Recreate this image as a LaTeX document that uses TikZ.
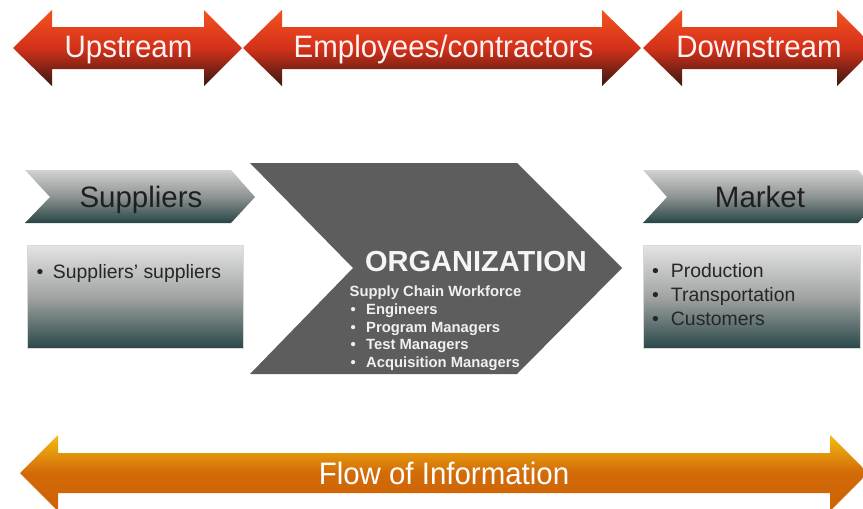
\documentclass[tikz,border=0pt]{standalone}
\usepackage{fontspec}
\setmainfont{Liberation Sans}
\newfontfamily\narrowsans[FakeStretch=0.95]{Liberation Sans}
\definecolor{redtop}{HTML}{F4521F}
\definecolor{redmid}{HTML}{D3311A}
\definecolor{redbot}{HTML}{3A1712}
\definecolor{orgtop}{HTML}{F3BC10}
\definecolor{orgmid}{HTML}{D36A08}
\definecolor{orgbot}{HTML}{CC6204}
\definecolor{chevtop}{HTML}{D2D2D2}
\definecolor{chevmid}{HTML}{8E9393}
\definecolor{chevbot}{HTML}{264545}
\definecolor{boxtop}{HTML}{E4E4E4}
\definecolor{boxmid}{HTML}{A2A4A4}
\definecolor{boxbot}{HTML}{2A4848}
\definecolor{orgfill}{HTML}{5D5D5D}
\begin{document}
\begin{tikzpicture}[x=1pt,y=-1pt,
  redarrow/.style={top color=redtop, bottom color=redbot, middle color=redmid, draw=none},
  flowarrow/.style={top color=orgtop, bottom color=orgbot, middle color=orgmid, draw=none},
  chevron/.style={top color=chevtop, bottom color=chevbot, middle color=chevmid, draw=none},
  graybox/.style={top color=boxtop, bottom color=boxbot, middle color=boxmid, draw=black!15, line width=0.6pt},
  whitetext/.style={font=\narrowsans\fontsize{31}{34}\selectfont, inner sep=0pt, anchor=base, text=white!95!red},
  darktext/.style={font=\fontsize{29.5}{32}\selectfont, inner sep=0pt, anchor=base, text=black!88},
  listtext/.style={font=\fontsize{19.4}{22}\selectfont, inner sep=0pt, anchor=base west, text=black!85},
  orgsub/.style={font=\bfseries\fontsize{14.8}{17}\selectfont, inner sep=0pt, anchor=base west, text=white!94!black}]
\useasboundingbox (0,0) rectangle (863,509);
\clip (0,0) rectangle (863,509);
\fill[white] (0,0) rectangle (863,509);

% top red arrows
\path[redarrow] (13,48) -- (52,10) -- (52,27) -- (204,27) -- (204,10) -- (242,48)
  -- (204,86) -- (204,69) -- (52,69) -- (52,86) -- cycle;
\path[redarrow] (243,48) -- (282,10) -- (282,27) -- (602,27) -- (602,10) -- (641,48)
  -- (602,86) -- (602,69) -- (282,69) -- (282,86) -- cycle;
\path[redarrow] (643,48) -- (682,10) -- (682,27) -- (837,27) -- (837,10) -- (875,48)
  -- (837,86) -- (837,69) -- (682,69) -- (682,86) -- cycle;
\node[whitetext] (up) at (128.5,57) {Upstream};
\node[whitetext] (emp) at (443.5,57) {Employees/contractors};
\node[whitetext] (down) at (759,57) {Downstream};

% suppliers chevron and box
\path[chevron] (25,170) -- (231,170) -- (255,197) -- (231,223) -- (25,223) -- (50,197) -- cycle;
\node[darktext] (sup) at (141,207) {Suppliers};
\path[graybox] (27,245) rectangle (243,348);
\node[listtext] (supsup) at (36.5,278) {•\hspace{9.5pt}Suppliers’ suppliers};

% organization chevron
\path[fill=orgfill] (250,163) -- (517,163) -- (622,268) -- (517,374) -- (250,374) -- (353,268) -- cycle;
\node[font=\bfseries\fontsize{29}{32}\selectfont, inner sep=0pt, anchor=base, text=white!96!black] (org) at (476,271) {ORGANIZATION};
\node[orgsub] (scw) at (349.5,296) {Supply Chain Workforce};
\node[orgsub] (eng) at (350.5,314) {•\hspace{10.3pt}Engineers};
\node[orgsub] (pm) at (350.5,332) {•\hspace{10.3pt}Program Managers};
\node[orgsub] (tm) at (350.5,349.5) {•\hspace{10.3pt}Test Managers};
\node[orgsub] (am) at (350.5,367.5) {•\hspace{10.3pt}Acquisition Managers};

% market chevron and box
\path[chevron] (643,170) -- (858,170) -- (882,197) -- (858,223) -- (643,223) -- (667,197) -- cycle;
\node[darktext] (mkt) at (760,207) {Market};
\path[graybox] (643,245) rectangle (860,348);
\node[listtext] (prod) at (652,277) {•\hspace{12pt}Production};
\node[listtext] (trans) at (652,301) {•\hspace{12pt}Transportation};
\node[listtext] (cust) at (652,325) {•\hspace{12pt}Customers};

% flow of information
\path[flowarrow] (20,473) -- (58,435) -- (58,453) -- (830,453) -- (830,435) -- (868,473)
  -- (830,511) -- (830,493) -- (58,493) -- (58,511) -- cycle;
\node[whitetext, text=white] (flow) at (444,484) {Flow of Information};
\end{tikzpicture}
\end{document}
